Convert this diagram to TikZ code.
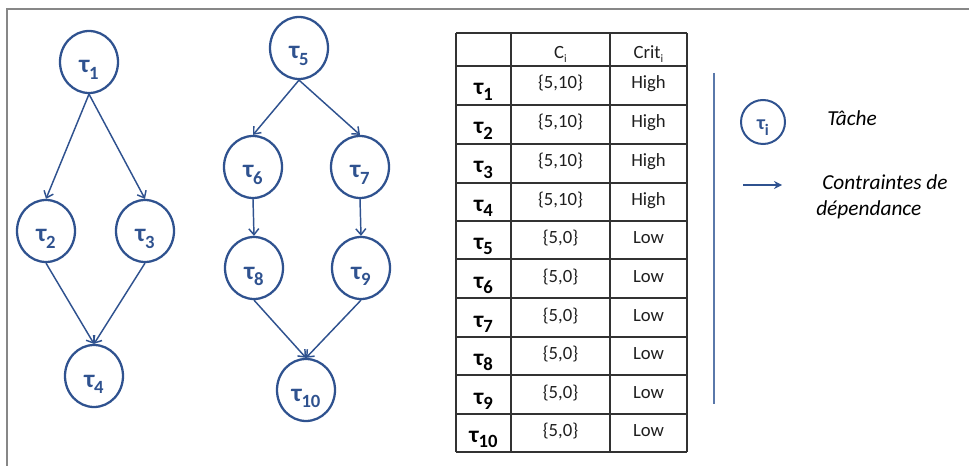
\documentclass[tikz,border=0pt]{standalone}
\usepackage{fontspec}
\setmainfont{Carlito}
\usetikzlibrary{shapes.geometric,arrows.meta}
\definecolor{nblue}{RGB}{47,82,143}
\definecolor{lblue}{RGB}{90,120,170}
\definecolor{framegray}{RGB}{135,135,135}
\definecolor{gridgray}{RGB}{50,50,50}
\definecolor{celltext}{RGB}{30,30,30}
\newcommand\lowsub[3]{\raisebox{#1}{\fontsize{#2}{#2}\selectfont #3}}
\newcommand\gtau[1]{τ\lowsub{-5.2pt}{14}{#1}}
\newcommand\ttau[1]{τ\lowsub{-3.8pt}{14}{#1}}
\tikzset{
  task/.style={ellipse, draw=nblue, line width=1.7pt, minimum width=43.5pt, minimum height=46.5pt,
    inner sep=0pt, text=nblue, text height=16.5pt, text depth=0pt,
    font=\fontsize{19}{19}\selectfont\bfseries},
  dep/.style={draw=nblue, line width=1.1pt, -{Straight Barb[length=4.5pt,width=7.5pt]}},
  gridline/.style={draw=gridgray, line width=1.1pt},
  taucell/.style={anchor=base, inner sep=0pt, text=black, font=\fontsize{17.5}{17.5}\selectfont\bfseries},
  valcell/.style={anchor=base, inner sep=0pt, text=celltext, font=\fontsize{14}{14}\selectfont},
  legtext/.style={anchor=base west, inner sep=0pt, text=black, font=\fontsize{16}{20}\selectfont\itshape},
}
\begin{document}
\begin{tikzpicture}[x=0.75pt,y=-0.75pt]
\useasboundingbox (0,0) rectangle (969,466);
% frame
\draw[framegray, line width=1.5pt] (969,9) -- (7,9) -- (7,466);

% graph 1
\node[task] (t1) at (89,62) {\gtau{1}};
\node[task] (t2) at (46,231) {\gtau{2}};
\node[task] (t3) at (145,231) {\gtau{3}};
\node[task] (t4) at (94,376) {\gtau{4}};
\draw[dep] (t1.south) -- (t2.north);
\draw[dep] (t1.south) -- (t3.north);
\draw[dep] (t2.south) -- (t4.north);
\draw[dep] (t3.south) -- (t4.north);

% graph 2
\node[task] (t5) at (299,48) {\gtau{5}};
\node[task] (t6) at (253,167) {\gtau{6}};
\node[task] (t7) at (360,167) {\gtau{7}};
\node[task] (t8) at (254,268) {\gtau{8}};
\node[task] (t9) at (361,268) {\gtau{9}};
\node[task] (t10) at (306,390) {\gtau{10}};
\draw[dep] (t5.south) -- (t6.north);
\draw[dep] (t5.south) -- (t7.north);
\draw[dep] (t6.south) -- (t8.north);
\draw[dep] (t7.south) -- (t9.north);
\draw[dep] (t8.south) -- (t10.north);
\draw[dep] (t9.south) -- (t10.north);

% table grid
\foreach \y in {33,66,105,144,183,221,259,298,337,375,414,452}
  \draw[gridline] (456,\y) -- (687,\y);
\foreach \x in {456,511,610,687}
  \draw[gridline] (\x,33) -- (\x,452);

% header
\node[valcell] (hc) at (560.5,58.3) {C\lowsub{-2.8pt}{8.5}{i}};
\node[valcell] (hcrit) at (648.5,58.3) {Crit\lowsub{-2.8pt}{8.5}{i}};

% rows
\foreach \i/\yc in {1/85.5,2/124.5,3/163.5,4/202,5/240,6/278.5,7/317.5,8/356,9/394.5,10/433}{
  \node[taucell] (rt\i) at (483.5,\yc+9.5) {\ttau{\i}};
  \ifnum\i<5
    \node[valcell] (rc\i) at (560.5,\yc+3.5) {\{5,10\}};
    \node[valcell] (rk\i) at (648.5,\yc+3.5) {High};
  \else
    \node[valcell] (rc\i) at (560.5,\yc+3.5) {\{5,0\}};
    \node[valcell] (rk\i) at (648.5,\yc+3.5) {Low};
  \fi
}

% legend
\draw[lblue, line width=1.2pt] (714,73) -- (714,404);
\node[ellipse, draw=nblue, line width=1.5pt, minimum width=33pt, minimum height=33pt, inner sep=0pt,
  text=nblue, text height=12pt, text depth=0pt, font=\fontsize{15}{15}\selectfont\bfseries]
  (lt) at (763,122) {τ\lowsub{-3.8pt}{12}{i}};
\node[legtext] (ltxt) at (827,126) {Tâche};
\coordinate (la) at (743,185);
\coordinate (lb) at (782,185);
\draw[nblue, line width=1.8pt, -{Stealth[length=6pt,width=6pt]}] (la) -- (lb);
\node[legtext, align=left] (ldep) at (816,216) {\hspace{4.5pt}Contraintes de\\dépendance};
\end{tikzpicture}
\end{document}
